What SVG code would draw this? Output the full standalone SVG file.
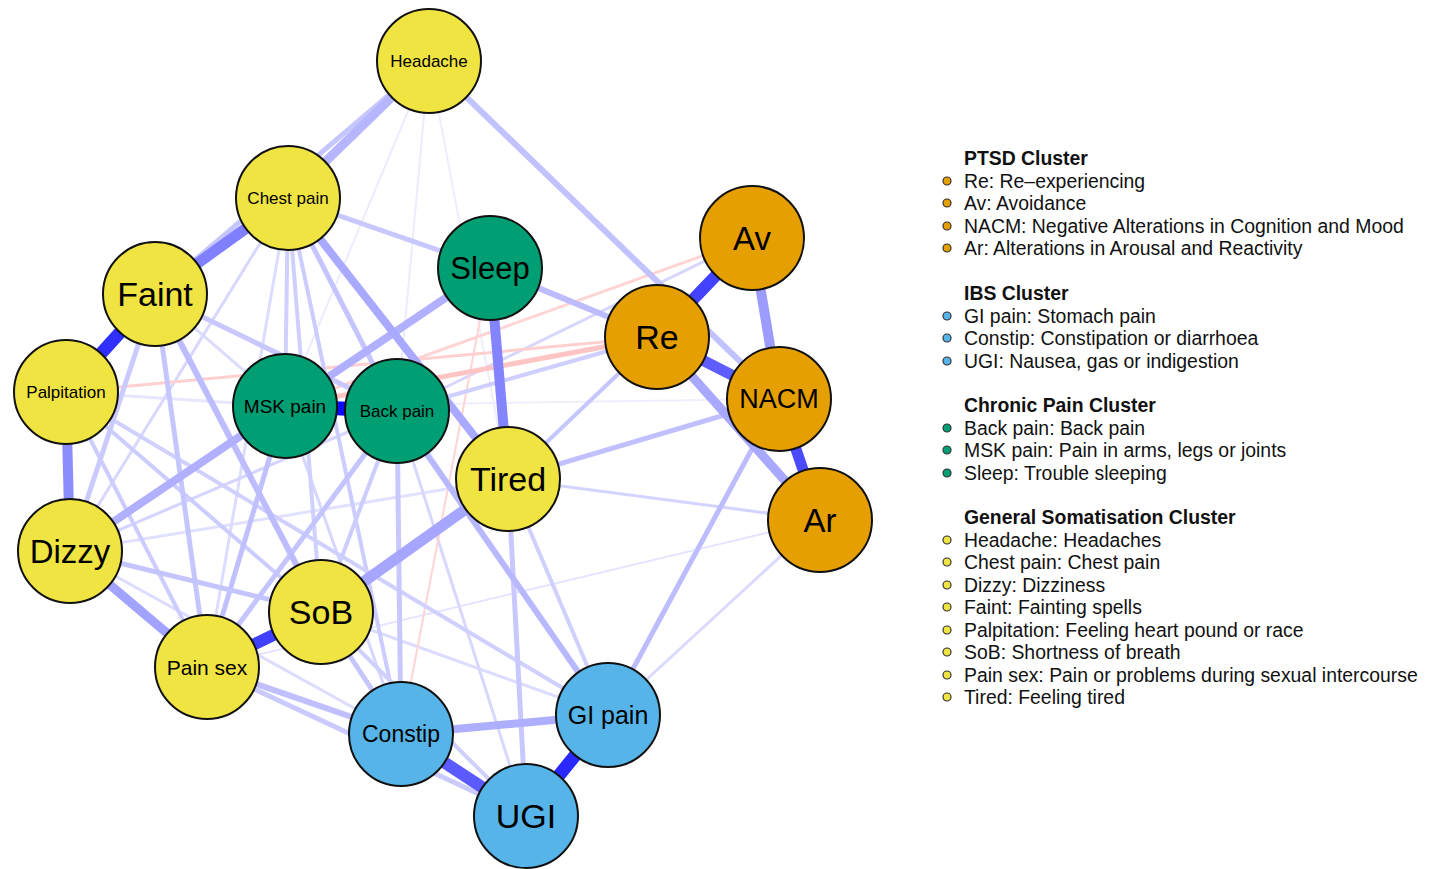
<svg xmlns="http://www.w3.org/2000/svg" width="1432" height="869" viewBox="0 0 1432 869">
<style>
.n{stroke:#111;stroke-width:2}
.y{fill:#F0E442}.o{fill:#E69F00}.g{fill:#009E73}.b{fill:#56B4E9}
.t{font-family:"Liberation Sans",Arial,sans-serif;fill:#000;text-anchor:middle;dominant-baseline:central}
.e line{stroke-linecap:butt}
.lg{font-family:"Liberation Sans",Arial,sans-serif;font-size:19.4px;fill:#111}
.lh{font-weight:bold}
.d{stroke:#333;stroke-width:1.2}
</style>
<rect width="1432" height="869" fill="#fff"/>
<g id="connectors" class="e">
<line x1="429" y1="61" x2="397" y2="411" stroke="#ececff" stroke-width="2"/>
<line x1="429" y1="61" x2="285" y2="406" stroke="#ececff" stroke-width="2"/>
<line x1="429" y1="61" x2="508" y2="479" stroke="#eeeeff" stroke-width="2"/>
<line x1="779" y1="399" x2="285" y2="406" stroke="#eeeeff" stroke-width="2"/>
<line x1="820" y1="520" x2="207" y2="667" stroke="#e4e4ff" stroke-width="2"/>
<line x1="66" y1="392" x2="285" y2="406" stroke="#e6e6ff" stroke-width="3"/>
<line x1="70" y1="551" x2="508" y2="479" stroke="#e0e0ff" stroke-width="3"/>
<line x1="70" y1="551" x2="401" y2="734" stroke="#dcdcff" stroke-width="3"/>
<line x1="155" y1="294" x2="285" y2="406" stroke="#dcdcff" stroke-width="3"/>
<line x1="288" y1="198" x2="207" y2="667" stroke="#dcdcff" stroke-width="3"/>
<line x1="288" y1="198" x2="70" y2="551" stroke="#d8d8ff" stroke-width="3"/>
<line x1="321" y1="612" x2="608" y2="715" stroke="#dcdcff" stroke-width="3"/>
<line x1="397" y1="411" x2="526" y2="816" stroke="#d8d8ff" stroke-width="3"/>
<line x1="285" y1="406" x2="401" y2="734" stroke="#d6d6ff" stroke-width="3"/>
<line x1="820" y1="520" x2="608" y2="715" stroke="#dadaff" stroke-width="3"/>
<line x1="820" y1="520" x2="508" y2="479" stroke="#d4d4ff" stroke-width="3"/>
<line x1="70" y1="551" x2="397" y2="411" stroke="#d4d4ff" stroke-width="3"/>
<line x1="752" y1="238" x2="397" y2="411" stroke="#d6d6ff" stroke-width="3"/>
<line x1="490" y1="268" x2="401" y2="734" stroke="#ffd4d4" stroke-width="2"/>
<line x1="752" y1="238" x2="285" y2="406" stroke="#ffd4d4" stroke-width="3"/>
<line x1="66" y1="392" x2="657" y2="337" stroke="#ffd0d0" stroke-width="3"/>
<line x1="288" y1="198" x2="285" y2="406" stroke="#d0d0ff" stroke-width="4"/>
<line x1="288" y1="198" x2="321" y2="612" stroke="#d0d0ff" stroke-width="4"/>
<line x1="288" y1="198" x2="401" y2="734" stroke="#ccccff" stroke-width="4"/>
<line x1="66" y1="392" x2="207" y2="667" stroke="#ccccff" stroke-width="4"/>
<line x1="66" y1="392" x2="321" y2="612" stroke="#ccccff" stroke-width="4"/>
<line x1="66" y1="392" x2="608" y2="715" stroke="#d0d0ff" stroke-width="4"/>
<line x1="321" y1="612" x2="526" y2="816" stroke="#d0d0ff" stroke-width="4"/>
<line x1="397" y1="411" x2="321" y2="612" stroke="#ccccff" stroke-width="4"/>
<line x1="508" y1="479" x2="608" y2="715" stroke="#d0d0ff" stroke-width="4"/>
<line x1="657" y1="337" x2="508" y2="479" stroke="#c6c6ff" stroke-width="4"/>
<line x1="657" y1="337" x2="397" y2="411" stroke="#cfcfff" stroke-width="4"/>
<line x1="657" y1="337" x2="285" y2="406" stroke="#ffc4c4" stroke-width="5"/>
<line x1="288" y1="198" x2="490" y2="268" stroke="#c8c8ff" stroke-width="5"/>
<line x1="288" y1="198" x2="397" y2="411" stroke="#c4c4ff" stroke-width="5"/>
<line x1="155" y1="294" x2="207" y2="667" stroke="#c6c6ff" stroke-width="5"/>
<line x1="155" y1="294" x2="397" y2="411" stroke="#c8c8ff" stroke-width="5"/>
<line x1="155" y1="294" x2="70" y2="551" stroke="#cacaff" stroke-width="5"/>
<line x1="429" y1="61" x2="155" y2="294" stroke="#c6c6ff" stroke-width="5"/>
<line x1="508" y1="479" x2="526" y2="816" stroke="#c8c8ff" stroke-width="5"/>
<line x1="779" y1="399" x2="608" y2="715" stroke="#bcbcff" stroke-width="5"/>
<line x1="779" y1="399" x2="508" y2="479" stroke="#c0c0ff" stroke-width="5"/>
<line x1="285" y1="406" x2="207" y2="667" stroke="#c0c0ff" stroke-width="5"/>
<line x1="397" y1="411" x2="207" y2="667" stroke="#c4c4ff" stroke-width="5"/>
<line x1="70" y1="551" x2="321" y2="612" stroke="#c4c4ff" stroke-width="5"/>
<line x1="397" y1="411" x2="401" y2="734" stroke="#c8c8ff" stroke-width="5"/>
<line x1="321" y1="612" x2="401" y2="734" stroke="#c6c6ff" stroke-width="5"/>
<line x1="207" y1="667" x2="526" y2="816" stroke="#cacaff" stroke-width="5"/>
<line x1="207" y1="667" x2="401" y2="734" stroke="#c0c0ff" stroke-width="6"/>
<line x1="155" y1="294" x2="321" y2="612" stroke="#bcbcff" stroke-width="6"/>
<line x1="397" y1="411" x2="608" y2="715" stroke="#b8b8ff" stroke-width="6"/>
<line x1="490" y1="268" x2="657" y2="337" stroke="#bcbcff" stroke-width="6"/>
<line x1="429" y1="61" x2="779" y2="399" stroke="#c2c2ff" stroke-width="6"/>
<line x1="490" y1="268" x2="70" y2="551" stroke="#b0b0ff" stroke-width="8"/>
<line x1="288" y1="198" x2="508" y2="479" stroke="#a9a9ff" stroke-width="8"/>
<line x1="429" y1="61" x2="288" y2="198" stroke="#b6b6ff" stroke-width="9"/>
<line x1="401" y1="734" x2="608" y2="715" stroke="#aeaeff" stroke-width="8"/>
<line x1="70" y1="551" x2="207" y2="667" stroke="#a2a2ff" stroke-width="9"/>
<line x1="508" y1="479" x2="321" y2="612" stroke="#a6a6ff" stroke-width="11"/>
<line x1="657" y1="337" x2="820" y2="520" stroke="#a8a8ff" stroke-width="9"/>
<line x1="752" y1="238" x2="779" y2="399" stroke="#9c9cff" stroke-width="10"/>
<line x1="490" y1="268" x2="508" y2="479" stroke="#8484ff" stroke-width="10"/>
<line x1="66" y1="392" x2="70" y2="551" stroke="#8c8cff" stroke-width="10"/>
<line x1="155" y1="294" x2="288" y2="198" stroke="#8080ff" stroke-width="11"/>
<line x1="401" y1="734" x2="526" y2="816" stroke="#5a5aff" stroke-width="12"/>
<line x1="657" y1="337" x2="779" y2="399" stroke="#5e5eff" stroke-width="11"/>
<line x1="779" y1="399" x2="820" y2="520" stroke="#4a4aff" stroke-width="11"/>
<line x1="321" y1="612" x2="207" y2="667" stroke="#4040ff" stroke-width="12"/>
<line x1="752" y1="238" x2="657" y2="337" stroke="#4242ff" stroke-width="12"/>
<line x1="608" y1="715" x2="526" y2="816" stroke="#2929ff" stroke-width="13"/>
<line x1="155" y1="294" x2="66" y2="392" stroke="#2f2fff" stroke-width="13"/>
<line x1="285" y1="406" x2="397" y2="411" stroke="#0a0aff" stroke-width="14"/>
</g>
<g id="node-headache"><circle class="n y" cx="429" cy="61" r="52"/><text class="t" x="429" y="61" font-size="17">Headache</text></g>
<g id="node-chestpain"><circle class="n y" cx="288" cy="198" r="52"/><text class="t" x="288" y="198" font-size="17">Chest pain</text></g>
<g id="node-faint"><circle class="n y" cx="155" cy="294" r="52"/><text class="t" x="155" y="294" font-size="34">Faint</text></g>
<g id="node-sleep"><circle class="n g" cx="490" cy="268" r="52"/><text class="t" x="490" y="268" font-size="31">Sleep</text></g>
<g id="node-av"><circle class="n o" cx="752" cy="238" r="52"/><text class="t" x="752" y="238" font-size="33">Av</text></g>
<g id="node-re"><circle class="n o" cx="657" cy="337" r="52"/><text class="t" x="657" y="337" font-size="34">Re</text></g>
<g id="node-nacm"><circle class="n o" cx="779" cy="399" r="52"/><text class="t" x="779" y="399" font-size="27">NACM</text></g>
<g id="node-ar"><circle class="n o" cx="820" cy="520" r="52"/><text class="t" x="820" y="520" font-size="33">Ar</text></g>
<g id="node-palpitation"><circle class="n y" cx="66" cy="392" r="52"/><text class="t" x="66" y="392" font-size="17">Palpitation</text></g>
<g id="node-mskpain"><circle class="n g" cx="285" cy="406" r="52"/><text class="t" x="285" y="406" font-size="19">MSK pain</text></g>
<g id="node-backpain"><circle class="n g" cx="397" cy="411" r="52"/><text class="t" x="397" y="411" font-size="17">Back pain</text></g>
<g id="node-tired"><circle class="n y" cx="508" cy="479" r="52"/><text class="t" x="508" y="479" font-size="34">Tired</text></g>
<g id="node-dizzy"><circle class="n y" cx="70" cy="551" r="52"/><text class="t" x="70" y="551" font-size="33">Dizzy</text></g>
<g id="node-sob"><circle class="n y" cx="321" cy="612" r="52"/><text class="t" x="321" y="612" font-size="34">SoB</text></g>
<g id="node-painsex"><circle class="n y" cx="207" cy="667" r="52"/><text class="t" x="207" y="667" font-size="21">Pain sex</text></g>
<g id="node-constip"><circle class="n b" cx="401" cy="734" r="52"/><text class="t" x="401" y="734" font-size="23">Constip</text></g>
<g id="node-gipain"><circle class="n b" cx="608" cy="715" r="52"/><text class="t" x="608" y="715" font-size="25">GI pain</text></g>
<g id="node-ugi"><circle class="n b" cx="526" cy="816" r="52"/><text class="t" x="526" y="816" font-size="34">UGI</text></g>
<g id="legend">
<text class="lg lh" x="964" y="165">PTSD Cluster</text>
<circle class="d o" cx="947" cy="181" r="4"/><text class="lg" x="964" y="188">Re: Re–experiencing</text>
<circle class="d o" cx="947" cy="203" r="4"/><text class="lg" x="964" y="210">Av: Avoidance</text>
<circle class="d o" cx="947" cy="226" r="4"/><text class="lg" x="964" y="233">NACM: Negative Alterations in Cognition and Mood</text>
<circle class="d o" cx="947" cy="248" r="4"/><text class="lg" x="964" y="255">Ar: Alterations in Arousal and Reactivity</text>
<text class="lg lh" x="964" y="300">IBS Cluster</text>
<circle class="d b" cx="947" cy="316" r="4"/><text class="lg" x="964" y="323">GI pain: Stomach pain</text>
<circle class="d b" cx="947" cy="338" r="4"/><text class="lg" x="964" y="345">Constip: Constipation or diarrhoea</text>
<circle class="d b" cx="947" cy="361" r="4"/><text class="lg" x="964" y="368">UGI: Nausea, gas or indigestion</text>
<text class="lg lh" x="964" y="412">Chronic Pain Cluster</text>
<circle class="d g" cx="947" cy="428" r="4"/><text class="lg" x="964" y="435">Back pain: Back pain</text>
<circle class="d g" cx="947" cy="450" r="4"/><text class="lg" x="964" y="457">MSK pain: Pain in arms, legs or joints</text>
<circle class="d g" cx="947" cy="473" r="4"/><text class="lg" x="964" y="480">Sleep: Trouble sleeping</text>
<text class="lg lh" x="964" y="524">General Somatisation Cluster</text>
<circle class="d y" cx="947" cy="540" r="4"/><text class="lg" x="964" y="547">Headache: Headaches</text>
<circle class="d y" cx="947" cy="562" r="4"/><text class="lg" x="964" y="569">Chest pain: Chest pain</text>
<circle class="d y" cx="947" cy="585" r="4"/><text class="lg" x="964" y="592">Dizzy: Dizziness</text>
<circle class="d y" cx="947" cy="607" r="4"/><text class="lg" x="964" y="614">Faint: Fainting spells</text>
<circle class="d y" cx="947" cy="630" r="4"/><text class="lg" x="964" y="637">Palpitation: Feeling heart pound or race</text>
<circle class="d y" cx="947" cy="652" r="4"/><text class="lg" x="964" y="659">SoB: Shortness of breath</text>
<circle class="d y" cx="947" cy="675" r="4"/><text class="lg" x="964" y="682">Pain sex: Pain or problems during sexual intercourse</text>
<circle class="d y" cx="947" cy="697" r="4"/><text class="lg" x="964" y="704">Tired: Feeling tired</text>
</g>
</svg>
